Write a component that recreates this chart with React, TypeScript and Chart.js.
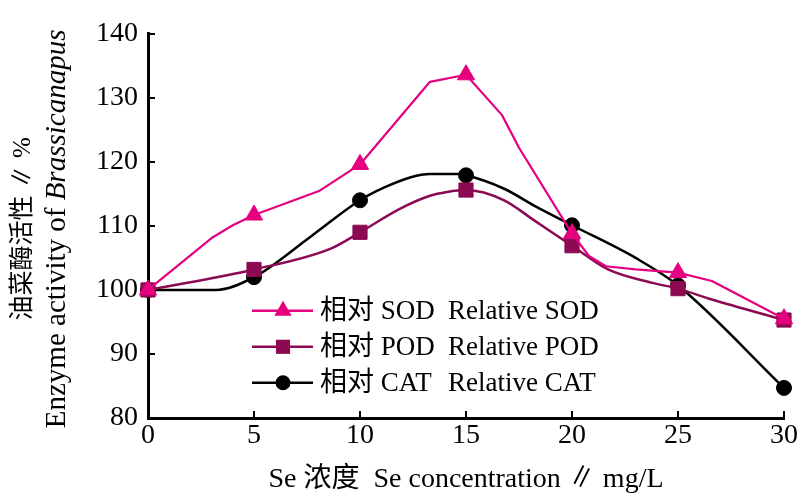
import React, { useEffect, useRef } from "react";
import { Chart, registerables } from "chart.js";

Chart.register(...registerables);

// Concentration (mg/L) where markers are drawn
const xTicks = [0, 5, 10, 15, 20, 25, 30];
// Marker values (relative enzyme activity, %)
const sodValues = [100, 111.7, 119.6, 133.6, 108.8, 102.7, 95.5];
const podValues = [100, 103.2, 109.0, 115.6, 106.9, 100.2, 95.3];
const catValues = [100, 102.0, 114.0, 117.9, 110.1, 100.7, 84.7];

// Traced curve vertices
const sodCurveX = [0, 3.0, 4.0, 5, 8.1, 10, 13.3, 15, 16.7, 17.5, 20, 20.8, 21.6, 23, 25, 26.6, 30];
const sodCurveY = [100, 108.1, 110.1, 111.7, 115.5, 119.6, 132.5, 133.6, 127.3, 122.2, 108.8, 105.3, 103.7, 103.2, 102.7, 101.4, 95.5];
const podCurveX = [0, 5, 8.65, 10, 11.9, 13.3, 14.1, 15, 16.8, 18.2, 20, 21.7, 23.8, 25, 26.6, 30];
const podCurveY = [100, 103.2, 106.5, 109.0, 112.7, 114.7, 115.3, 115.6, 114.0, 110.9, 106.9, 103.2, 101.1, 100.2, 98.5, 95.3];
const catCurveX = [0, 3.2, 5, 7.7, 10, 11.15, 12.4, 13.3, 14.6, 15, 16.8, 18.3, 20, 23, 25, 30];
const catCurveY = [100, 100, 102.0, 108.4, 114.0, 116.0, 117.6, 118.1, 118.1, 117.9, 115.8, 113.0, 110.1, 105.0, 100.7, 84.7];

const seriesZh = ["相对 SOD", "相对 POD", "相对 CAT"];
const seriesEn = ["Relative SOD", "Relative POD", "Relative CAT"];
const yTitleZh = "油菜酶活性 ∥ %";
const yTitleEn = "Enzyme activity of ";
const yTitleEnItalic = "Brassicanapus";
const xTitle = "Se 浓度  Se concentration ∥ mg/L";

const PINK = "#E4007F";
const PURPLE = "#8C0A52";
const BLACK = "#000000";
const FONT = "'Liberation Serif', 'Noto Sans CJK SC', serif";

const colors = [PINK, PURPLE, BLACK];
const styles = ["triangle", "rect", "circle"];
const radii = [10, 10, 7.5];

const toPts = (xs: number[], ys: number[]) => xs.map((x, i) => ({ x, y: ys[i] }));

function drawMarker(ctx: CanvasRenderingContext2D, style: string, x: number, y: number, r: number, color: string) {
  ctx.fillStyle = color;
  ctx.beginPath();
  if (style === "triangle") {
    for (let k = 0; k < 3; k++) {
      const a = (k * 2 * Math.PI) / 3;
      const px = x + Math.sin(a) * r;
      const py = y - Math.cos(a) * r;
      if (k === 0) ctx.moveTo(px, py);
      else ctx.lineTo(px, py);
    }
    ctx.closePath();
  } else if (style === "rect") {
    const s = r * Math.SQRT1_2;
    ctx.rect(x - s, y - s, 2 * s, 2 * s);
  } else {
    ctx.arc(x, y, r, 0, Math.PI * 2);
  }
  ctx.fill();
}

const annotationsPlugin = {
  id: "annotations",
  afterDraw(chart: any) {
    const { ctx, chartArea } = chart;
    // Y axis title (two rotated lines)
    ctx.save();
    ctx.fillStyle = "#000";
    ctx.textBaseline = "middle";
    const cy = (chartArea.top + chartArea.bottom) / 2 + 3;
    ctx.translate(23, cy);
    ctx.rotate(-Math.PI / 2);
    ctx.font = `25px ${FONT}`;
    ctx.textAlign = "center";
    ctx.fillText(yTitleZh, 0, 0);
    ctx.restore();

    ctx.save();
    ctx.fillStyle = "#000";
    ctx.textBaseline = "middle";
    ctx.translate(57, cy);
    ctx.rotate(-Math.PI / 2);
    ctx.font = `29px ${FONT}`;
    const w1 = ctx.measureText(yTitleEn).width;
    ctx.font = `italic 29px ${FONT}`;
    const w2 = ctx.measureText(yTitleEnItalic).width;
    const start = -(w1 + w2) / 2;
    ctx.textAlign = "left";
    ctx.font = `29px ${FONT}`;
    ctx.fillText(yTitleEn, start, 0);
    ctx.font = `italic 29px ${FONT}`;
    ctx.fillText(yTitleEnItalic, start + w1, 0);
    ctx.restore();

    // Legend
    ctx.save();
    const lx = chartArea.left + 104;
    const ly = chartArea.top + 277;
    for (let i = 0; i < 3; i++) {
      const y = ly + i * 36;
      ctx.strokeStyle = colors[i];
      ctx.lineWidth = 2.5;
      ctx.beginPath();
      ctx.moveTo(lx, y);
      ctx.lineTo(lx + 61, y);
      ctx.stroke();
      drawMarker(ctx, styles[i], lx + 31, y, radii[i], colors[i]);
      ctx.fillStyle = "#000";
      ctx.font = `27px ${FONT}`;
      ctx.textAlign = "left";
      ctx.textBaseline = "middle";
      ctx.fillText(seriesZh[i], lx + 68, y + 1);
      ctx.fillText(seriesEn[i], lx + 196, y + 1);
    }
    ctx.restore();
  },
};

export default function App() {
  const canvasRef = useRef<HTMLCanvasElement | null>(null);

  useEffect(() => {
    if (!canvasRef.current) return;
    const markerSets = [sodValues, podValues, catValues];
    const curveSets = [
      toPts(sodCurveX, sodCurveY),
      toPts(podCurveX, podCurveY),
      toPts(catCurveX, catCurveY),
    ];
    const datasets: any[] = [];
    for (let i = 0; i < 3; i++) {
      datasets.push({
        label: seriesEn[i],
        data: toPts(xTicks, markerSets[i]),
        showLine: false,
        pointStyle: styles[i],
        pointRadius: radii[i],
        pointBackgroundColor: colors[i],
        pointBorderColor: colors[i],
        pointBorderWidth: 1,
        order: i * 2,
        clip: false,
      });
      const curve: any = {
        label: seriesEn[i] + " curve",
        data: curveSets[i],
        showLine: true,
        borderColor: colors[i],
        borderWidth: i === 0 ? 2.2 : 2.5,
        borderJoinStyle: "round",
        pointRadius: 0,
        fill: false,
        order: i * 2 + 1,
        clip: false,
      };
      if (i === 0) curve.tension = 0;
      else curve.cubicInterpolationMode = "monotone";
      datasets.push(curve);
    }

    const chart = new Chart(canvasRef.current, {
      type: "scatter",
      data: { datasets },
      options: {
        animation: false,
        responsive: true,
        maintainAspectRatio: false,
        layout: { padding: { left: 0, right: 17, top: 28, bottom: 0 } },
        plugins: { legend: { display: false }, tooltip: { enabled: false } },
        scales: {
          x: {
            type: "linear",
            min: 0,
            max: 30,
            afterFit: (s: any) => {
              s.height = 78;
            },
            afterBuildTicks: (s: any) => {
              s.ticks = xTicks.map((v) => ({ value: v }));
            },
            border: { display: true, color: "#000", width: 3 },
            grid: {
              drawOnChartArea: false,
              drawTicks: true,
              tickLength: -7,
              color: "#000",
              lineWidth: 2,
            },
            ticks: {
              color: "#000",
              padding: 8,
              font: { family: FONT, size: 28 },
              maxRotation: 0,
            },
            title: {
              display: true,
              text: xTitle,
              color: "#000",
              font: { family: FONT, size: 28 },
              padding: { top: 0, bottom: 0 },
            },
          },
          y: {
            type: "linear",
            min: 80,
            max: 140,
            afterFit: (s: any) => {
              s.width = 148;
            },
            border: { display: true, color: "#000", width: 3 },
            grid: {
              drawOnChartArea: false,
              drawTicks: true,
              tickLength: -7,
              color: "#000",
              lineWidth: 2,
            },
            ticks: {
              stepSize: 10,
              color: "#000",
              padding: 17,
              font: { family: FONT, size: 28 },
            },
          },
        },
      },
      plugins: [annotationsPlugin],
    });
    return () => chart.destroy();
  }, []);

  return (
    <div style={{ position: "absolute", left: 0, top: 0, width: 806, height: 496, background: "#fff" }}>
      <canvas ref={canvasRef} />
    </div>
  );
}
